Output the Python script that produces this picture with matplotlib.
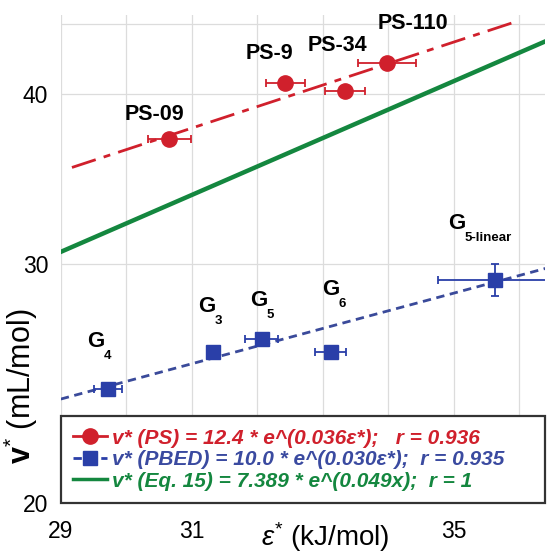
import numpy as np
import matplotlib
matplotlib.use("Agg")
import matplotlib.pyplot as plt
from matplotlib.ticker import FixedLocator, NullLocator

plt.rcParams["font.family"] = ["Liberation Sans", "DejaVu Sans"]
plt.rcParams["mathtext.fontset"] = "custom"
plt.rcParams["mathtext.rm"] = "Liberation Sans"
plt.rcParams["mathtext.it"] = "Liberation Sans:italic"
plt.rcParams["mathtext.bf"] = "Liberation Sans:bold"

RED = "#d0202c"
BLUE = "#2a3fa8"
GREEN = "#14873f"

# PS samples
ps_names = ["PS-09", "PS-9", "PS-34", "PS-110"]
ps_eps = [30.66, 32.43, 33.34, 33.98]
ps_eps_err = [0.33, 0.30, 0.30, 0.44]
ps_v = [37.05, 40.75, 40.2, 42.15]

# PBED samples
g_names = ["4", "3", "5", "6", "5-linear"]
g_eps = [29.72, 31.32, 32.07, 33.12, 35.63]
g_eps_err = [0.22, 0.0, 0.25, 0.23, 0.87]
g_v = [24.26, 25.83, 26.41, 25.83, 29.2]
g_v_err = [0.0, 0.0, 0.0, 0.0, 0.8]

# fitted lines (end points)
ps_fit_x = [29.17, 35.9]
ps_fit_y = [35.3, 45.1]
g_fit_x = [29.0, 36.4]
g_fit_y = [23.85, 29.75]
eq15_x = [29.0, 36.4]
eq15_y = [30.6, 43.7]

fig = plt.figure(figsize=(5.48, 5.54), dpi=100)
ax = fig.add_axes([0.111, 0.092, 0.884, 0.881])
ax.set_yscale("log")

ax.plot(ps_fit_x, ps_fit_y, color=RED, lw=2, ls=(0, (9, 3, 2.5, 3)), zorder=2)
ax.plot(g_fit_x, g_fit_y, color="#3a4a9a", lw=2, ls=(0, (3, 2)), zorder=2)
ax.plot(eq15_x, eq15_y, color=GREEN, lw=3.2, zorder=2)

ax.errorbar(ps_eps, ps_v, xerr=ps_eps_err, fmt="o", color=RED, ms=11,
            elinewidth=1.3, capsize=3, capthick=1.3, zorder=3)
ax.errorbar(g_eps, g_v, xerr=g_eps_err, yerr=g_v_err, fmt="s", color=BLUE,
            ms=10, elinewidth=1.3, capsize=3, capthick=1.3, zorder=3)

# label offsets in pixels (x right, y up)
ps_offsets = [(-15, 24), (-16, 29), (-8, 45), (26, 39)]
for n, x, y, off in zip(ps_names, ps_eps, ps_v, ps_offsets):
    ax.annotate(n, (x, y), xytext=off, textcoords="offset pixels",
                ha="center", va="center", fontsize=15.5, fontweight="bold")

g_offsets = [(-12, 47), (-6, 45), (-3, 38), (0, 62), (-38, 56)]
for n, x, y, (dx, dy) in zip(g_names, g_eps, g_v, g_offsets):
    ax.annotate("G", (x, y), xytext=(dx, dy), textcoords="offset pixels",
                ha="center", va="center", fontsize=16, fontweight="bold")
    ax.annotate(n, (x, y), xytext=(dx + 8, dy - 14),
                textcoords="offset pixels", ha="left", va="center",
                fontsize=9.5, fontweight="bold")

ax.set_xlim(29, 36.4)
ax.set_ylim(20, 45.7)
ax.xaxis.set_major_locator(FixedLocator([29, 30, 31, 32, 33, 34, 35, 36]))
ax.set_xticklabels(["29", "", "31", "", "", "", "35", ""])
ax.yaxis.set_major_locator(FixedLocator([20, 30, 40, 45]))
ax.yaxis.set_minor_locator(NullLocator())
ax.set_yticklabels(["20", "30", "40", ""])
ax.tick_params(length=0, labelsize=16.5)
ax.tick_params(axis="y", pad=9)
ax.tick_params(axis="x", pad=12)
ax.grid(color="#dcdcdc", lw=0.9)
for s in ax.spines.values():
    s.set_visible(False)

ax.set_xlabel(r"$\varepsilon^{*}$ (kJ/mol)", fontsize=20)
ax.xaxis.set_label_coords(0.545, -0.036)
ax.set_ylabel(r"$\mathbf{v}^{*}$ (mL/mol)", fontsize=22)
ax.yaxis.set_label_coords(-0.042, 0.24)

labels = [
    "v* (PS) = 12.4 * e^(0.036\u03b5*);   r = 0.936",
    "v* (PBED) = 10.0 * e^(0.030\u03b5*);  r = 0.935",
    "v* (Eq. 15) = 7.389 * e^(0.049x);  r = 1",
]
h1 = ax.errorbar([], [], fmt="-o", color=RED, ms=11, lw=2)
h2 = ax.errorbar([], [], fmt="s", ls=(0, (3, 2)), color=BLUE, ms=10, lw=2)
h3, = ax.plot([], [], color=GREEN, lw=2.5)
leg = ax.legend([h1, h2, h3], labels, loc="lower left",
                bbox_to_anchor=(0, 0, 1, 0.3), mode="expand",
                prop={"weight": "bold", "style": "italic", "size": 15},
                fancybox=False, edgecolor="#333333", framealpha=1,
                borderaxespad=0, handlelength=1.6, handletextpad=0.25,
                labelspacing=0.12, borderpad=0.6)
leg.get_frame().set_linewidth(1.6)
for t, c in zip(leg.get_texts(), [RED, "#3a4aa0", GREEN]):
    t.set_color(c)

fig.savefig("out.png", dpi=100)
